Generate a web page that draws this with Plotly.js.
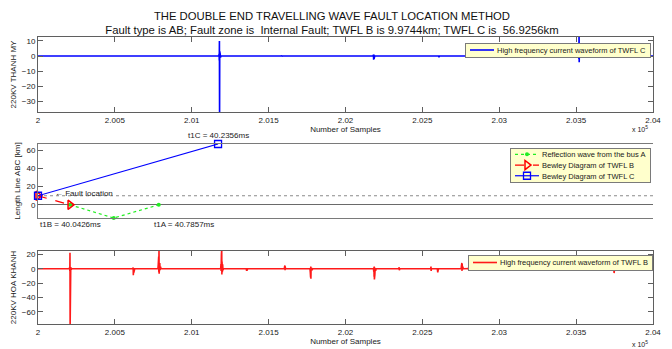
<!DOCTYPE html>
<html>
<head>
<meta charset="utf-8">
<script src="https://cdn.plot.ly/plotly-3.0.1.min.js"></script>
<style>
  html, body { margin: 0; padding: 0; background: #fff; }
  #chart { width: 672px; height: 349px; }
</style>
</head>
<body>
<div id="chart"></div>
<script>
// ---- High frequency current waveform, TWFL C (220kV Thanh My) ----
const samplesC = [200000, 201176, 201178, 201179, 201180, 201181, 201182, 201183, 201185, 201187, 201190,
  201584, 201585, 201586, 201588,
  202179, 202181, 202182, 202183, 202185, 202186, 202188, 202190,
  202606, 202608, 202610,
  203182, 203184, 203186, 203188,
  203515, 203517, 203518, 203519, 203520, 203521, 203523, 203525,
  203725, 203727, 203729,
  203924, 203926, 203928, 204000];
const currentC = [0, 0, 1.5, -3, 10, -40, 3, -2.5, 1.5, -1, 0,
  0, 0.5, -0.3, 0,
  0, -1.5, 0.8, -2.5, 1, -1.8, 0.5, 0,
  0, -0.8, 0,
  0, 0.6, -0.4, 0,
  0, 1, -2, 16, -4.2, 1.5, -1, 0,
  0, -0.6, 0,
  0, -0.5, 0, 0];

// ---- High frequency current waveform, TWFL B (220kV Hoa Khanh) ----
const samplesB = [200000,
  200204, 200206, 200207, 200208, 200209, 200210, 200211, 200213, 200216, 200220,
  200616, 200618, 200619, 200620, 200621, 200622, 200624, 200626, 200629,
  200780, 200782, 200783, 200785, 200786, 200787, 200788, 200789, 200790, 200792, 200794, 200797, 200800,
  201188, 201190, 201191, 201193, 201194, 201195, 201196, 201197, 201199, 201201, 201203, 201206,
  201354, 201356, 201357, 201358, 201360, 201363,
  201602, 201604, 201605, 201606, 201607, 201608, 201610,
  201769, 201771, 201772, 201773, 201774, 201775, 201776, 201778, 201780, 201783, 201786,
  202182, 202184, 202185, 202186, 202187, 202188, 202189, 202191, 202193, 202196, 202199,
  202347, 202349, 202350, 202352, 202354,
  202554, 202556, 202557, 202559,
  202597, 202599, 202600, 202602, 202605,
  202752, 202754, 202755, 202757, 202758, 202759, 202761, 202763, 202766,
  202931, 202933, 202934, 202936,
  203008, 203010, 203011, 203013,
  203171, 203173, 203174, 203176, 203178,
  203334, 203336, 203337, 203339, 203341,
  203582, 203584, 203586,
  203742, 203744, 203745, 203747, 203749, 203752,
  204000];
const currentB = [0,
  0, 2, -3, 22, -80, 4, -3, 2, -1, 0,
  0, -4, 1.5, -9, 1, -6, 0.5, -3, 0,
  0, 5, -3, 17, -5, 27, -7, 14, -4, 8, -2, 3, 0,
  0, 6, -3, 20, -6, 27, -8, 10, -5, 6, -2, 0,
  0, -1.5, -3, -1, -2.5, 0,
  0, 3, -1, 4.6, -2, 2.5, 0,
  0, -5, 2.5, -12, 3, -14, 1, -7, 0.5, -2, 0,
  0, -4, 2, -11, 3, -15, 1.5, -8, 1, -3, 0,
  0, 2, -2, 1.5, 0,
  0, 3, -3, 0,
  0, -3, -5, -2.5, 0,
  0, 4, -2, 8, -3, 6, -1.5, 3, 0,
  0, 1, -1, 0,
  0, 1, -1, 0,
  0, -1.5, -3, -1, 0,
  0, -1.5, -3, -1, 0,
  0, -1, 0,
  0, -3, 1, -6, -2, 0,
  0];

// ---- Bewley lattice diagram (time in ms, distance along line ABC in km) ----
const lineLength = 66.9;        // km, TWFL B + TWFL C
const faultKm = 9.9744;         // km from bus B
const tFault = 40.0008;         // ms
const t1B = 40.0426;            // ms
const t1C = 40.2356;            // ms
const t1A = 40.7857;            // ms
const bewleyB_t = [tFault, t1B];
const bewleyB_km = [faultKm, 0];
const bewleyC_t = [tFault, t1C];
const bewleyC_km = [faultKm, lineLength];
const reflA_t = [t1B, 40.0996, 40.1583];
const reflA_km = [0, -14.5, 0];
const bewleyRange = [tFault, 40.8028];

// Tick labels of the sample axes (scaled by 10^5)
const sampleTicks = [200000, 200500, 201000, 201500, 202000, 202500, 203000, 203500, 204000];
const sampleTickText = ['2', '2.005', '2.01', '2.015', '2.02', '2.025', '2.03', '2.035', '2.04'];

const FONT = 'Liberation Sans, Arial, sans-serif';
const TXT = '#1a1a1a';
const FRAME = '#5f5f5f';
const LEGEND_FONT = 7.5;

const traces = [
  { x: samplesC, y: currentC, xaxis: 'x', yaxis: 'y', type: 'scatter', mode: 'lines',
    line: { color: '#0000ff', width: 1.6 }, name: 'High frequency current waveform of TWFL C',
    legend: 'legend' },

  { x: bewleyRange, y: [faultKm, faultKm], xaxis: 'x2', yaxis: 'y2', type: 'scatter', mode: 'lines',
    line: { color: '#8a8a8a', width: 1, dash: 'dot' }, showlegend: false, hoverinfo: 'skip' },
  { x: reflA_t, y: reflA_km, xaxis: 'x2', yaxis: 'y2', type: 'scatter', mode: 'lines+markers',
    line: { color: '#22ee22', width: 1.2, dash: 'dot' }, marker: { color: '#22ee22', size: 4 },
    cliponaxis: false, name: 'Reflection wave from the bus A', legend: 'legend2' },
  { x: bewleyB_t, y: bewleyB_km, xaxis: 'x2', yaxis: 'y2', type: 'scatter', mode: 'lines+markers',
    line: { color: '#ff0000', width: 1.2, dash: 'dash' },
    marker: { color: '#ff0000', size: 8, symbol: 'triangle-right-open', line: { width: 1.5, color: '#ff0000' } },
    cliponaxis: false, name: 'Bewley Diagram of TWFL B', legend: 'legend2' },
  { x: bewleyC_t, y: bewleyC_km, xaxis: 'x2', yaxis: 'y2', type: 'scatter', mode: 'lines+markers',
    line: { color: '#0000ff', width: 1.2 },
    marker: { color: '#0000ff', size: 7, symbol: 'square-open', line: { width: 1.3, color: '#0000ff' } },
    cliponaxis: false, name: 'Bewley Diagram of TWFL C', legend: 'legend2' },

  { x: samplesB, y: currentB, xaxis: 'x3', yaxis: 'y3', type: 'scatter', mode: 'lines',
    line: { color: '#ff1a1a', width: 1.6 }, name: 'High frequency current waveform of TWFL B',
    legend: 'legend3' }
];

const sampleAxis = (anchor) => ({
  anchor: anchor, range: [200000, 204000], tickvals: sampleTicks, ticktext: sampleTickText,
  ticks: 'inside', ticklen: 5, tickcolor: FRAME, showline: true, linecolor: FRAME, linewidth: 1,
  mirror: 'allticks', showgrid: false, zeroline: false,
  tickfont: { family: FONT, size: 8, color: TXT },
  title: { text: 'Number of Samples', font: { family: FONT, size: 8, color: TXT }, standoff: 0 }
});

const legendBox = (x, y) => ({
  x: x, y: y, xref: 'paper', yref: 'paper', xanchor: 'right', yanchor: 'top',
  bgcolor: '#ffffcc', bordercolor: '#7a7a7a', borderwidth: 1,
  font: { family: FONT, size: LEGEND_FONT, color: TXT }, itemwidth: 30, tracegroupgap: 0
});

const layout = {
  width: 672, height: 349,
  margin: { l: 38, r: 19, t: 37, b: 25 },
  paper_bgcolor: '#ffffff', plot_bgcolor: '#ffffff',
  showlegend: true,
  font: { family: FONT, size: 8, color: TXT },
  title: {
    text: 'THE DOUBLE END TRAVELLING WAVE FAULT LOCATION METHOD<br>Fault type is AB; Fault zone is  Internal Fault; TWFL B is 9.9744km; TWFL C is  56.9256km',
    font: { family: FONT, size: 11.3, color: '#111' },
    x: 0.494, xanchor: 'center', y: 1 - 19.5 / 349, yanchor: 'middle', yref: 'container'
  },
  xaxis: sampleAxis('y'),
  yaxis: {
    domain: [0.7387, 1], range: [-37.1, 12.6], tickvals: [-30, -20, -10, 0, 10],
    ticks: 'inside', ticklen: 5, tickcolor: FRAME, showline: true, linecolor: FRAME, mirror: 'allticks',
    showgrid: false, zeroline: false, tickfont: { family: FONT, size: 8, color: TXT },
    title: { text: '220KV THANH MY', font: { family: FONT, size: 8, color: TXT }, standoff: 4 }
  },
  xaxis2: {
    anchor: 'y2', range: bewleyRange, showticklabels: false, ticks: '', showline: true,
    linecolor: '#7a7a7a', mirror: true, showgrid: false, zeroline: false
  },
  yaxis2: {
    domain: [0.3693, 0.6272], range: [-14.5, lineLength], tickvals: [0, 20, 40, 60],
    ticks: 'inside', ticklen: 5, tickcolor: FRAME, showline: true, linecolor: '#7a7a7a', mirror: false,
    showgrid: false, zeroline: true, zerolinecolor: '#6a6a6a', zerolinewidth: 1,
    tickfont: { family: FONT, size: 8, color: TXT },
    title: { text: 'Length Line ABC [km]', font: { family: FONT, size: 8, color: TXT }, standoff: 4 }
  },
  xaxis3: sampleAxis('y3'),
  yaxis3: {
    domain: [0, 0.2544], range: [-76.7, 24.6], tickvals: [-60, -40, -20, 0, 20],
    ticks: 'inside', ticklen: 5, tickcolor: FRAME, showline: true, linecolor: FRAME, mirror: 'allticks',
    showgrid: false, zeroline: false, tickfont: { family: FONT, size: 8, color: TXT },
    title: { text: '220KV HOA KHANH', font: { family: FONT, size: 8, color: TXT }, standoff: 4 }
  },
  legend: legendBox(0.995, 0.979),
  legend2: legendBox(0.995, 0.613),
  legend3: legendBox(0.995, 0.2404),
  annotations: [
    { xref: 'x2', yref: 'y2', x: t1C, y: lineLength, yshift: 8, text: 't1C = ' + t1C.toFixed(4) + 'ms',
      showarrow: false, xanchor: 'center', yanchor: 'middle', font: { family: FONT, size: 8, color: TXT } },
    { xref: 'x2', yref: 'y2', x: t1B, y: -14.5, yshift: -6, text: 't1B = ' + t1B.toFixed(4) + 'ms',
      showarrow: false, xanchor: 'center', yanchor: 'middle', font: { family: FONT, size: 8, color: TXT } },
    { xref: 'x2', yref: 'y2', x: reflA_t[2], y: -14.5, yshift: -6, xshift: -7, text: 't1A = ' + t1A.toFixed(4) + 'ms',
      showarrow: false, xanchor: 'left', yanchor: 'middle', font: { family: FONT, size: 8, color: TXT } },
    { xref: 'x2', yref: 'y2', x: tFault, y: faultKm, xshift: 15, yshift: 2, text: '\u2190 Fault location',
      showarrow: false, xanchor: 'left', yanchor: 'middle', font: { family: FONT, size: 8, color: TXT } },
    { xref: 'paper', yref: 'paper', x: 0.995, y: (324 - 129) / 287, text: 'x 10<sup>5</sup>',
      showarrow: false, xanchor: 'right', yanchor: 'middle', font: { family: FONT, size: 7, color: TXT } },
    { xref: 'paper', yref: 'paper', x: 0.995, y: (324 - 344) / 287, text: 'x 10<sup>5</sup>',
      showarrow: false, xanchor: 'right', yanchor: 'middle', font: { family: FONT, size: 7, color: TXT } }
  ]
};

// Legend boxes in MATLAB style: tight rows, short sample line, box pinned to its top-right corner.
const legendStyle = {
  legend:  { right: 650, top: 43,  row: 12 },
  legend2: { right: 650, top: 148, row: 10.7 },
  legend3: { right: 652, top: 255, row: 13 }
};

const measureCtx = document.createElement('canvas').getContext('2d');
measureCtx.font = LEGEND_FONT + 'px "Liberation Sans", Arial, sans-serif';

function tightenLegends(gd) {
  gd.querySelectorAll('.infolayer > g').forEach(g => {
    const s = legendStyle[g.getAttribute('class')];
    if (!s) return;
    const items = g.querySelectorAll('g.traces');
    if (!items.length) return;
    let textW = 0;
    items.forEach((it, i) => {
      it.setAttribute('transform', 'translate(1,' + (1 + s.row * (i + 0.5)) + ')');
      it.querySelectorAll('path.js-line').forEach(p => p.setAttribute('d', 'M4,0h24'));
      it.querySelectorAll('path.scatterpts').forEach(p => p.setAttribute('transform', 'translate(16,0)'));
      it.querySelectorAll('text').forEach(t => {
        t.setAttribute('x', 31);
        t.querySelectorAll('tspan[x]').forEach(ts => ts.setAttribute('x', 31));
        textW = Math.max(textW, measureCtx.measureText(t.textContent).width);
      });
      const tog = it.querySelector('rect.legendtoggle');
      if (tog) tog.remove();
    });
    if (!textW) return;
    const w = Math.round(32 + textW + 4), h = Math.round(s.row * items.length + 2);
    const bg = g.querySelector('rect.bg');
    if (bg) {
      bg.setAttribute('x', 0.5); bg.setAttribute('y', 0.5);
      bg.setAttribute('width', w); bg.setAttribute('height', h);
    }
    g.querySelectorAll('rect.scrollbar').forEach(r => r.remove());
    g.querySelectorAll('clipPath rect').forEach(r => {
      r.setAttribute('width', w + 2); r.setAttribute('height', h + 2);
    });
    g.setAttribute('transform', 'translate(' + (s.right - w) + ',' + s.top + ')');
  });
  // drop empty text nodes left by unused titles
  gd.querySelectorAll('text').forEach(t => {
    if (!t.textContent.trim() && !t.closest('g.traces')) t.remove();
  });
}

Plotly.newPlot('chart', traces, layout, { staticPlot: true, displayModeBar: false })
  .then(gd => {
    tightenLegends(gd);
    let n = 0;
    const timer = setInterval(() => { tightenLegends(gd); if (++n > 80) clearInterval(timer); }, 25);
  });
</script>
</body>
</html>
